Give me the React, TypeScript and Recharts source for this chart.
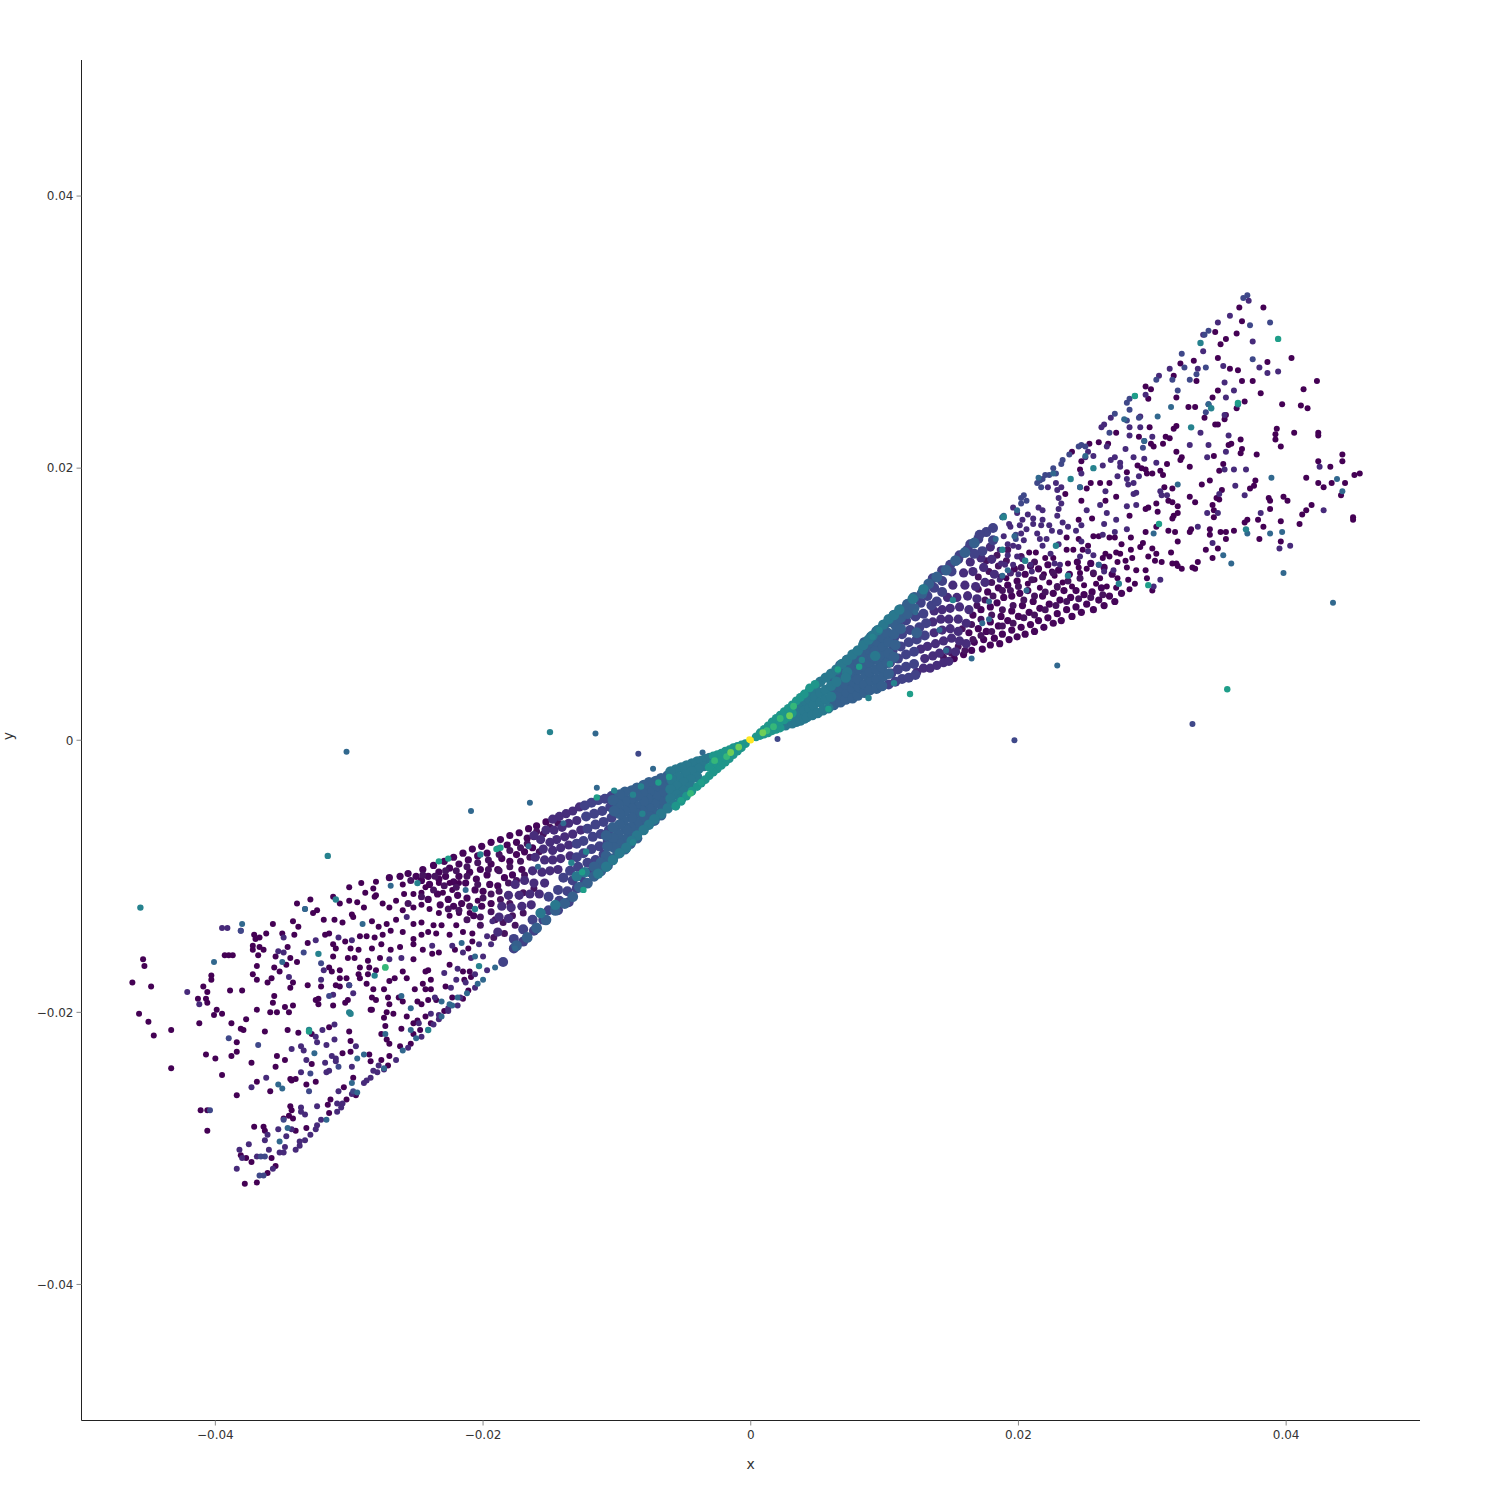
import React from 'react'
import { ScatterChart, Scatter, XAxis, YAxis } from 'recharts'

// every point is [x, y] in thousandths
const plum: number[][] = [
  [36.5,31.8],[38.3,31.8],[36.7,30.8],[36.3,29.9],[34.7,30],[35.5,29.5],[35.1,29.1],[34.9,28.1],[33.1,27.9],[38.6,27.8],[40.4,28.1],[32.1,27.7],[35.8,27.3],[36.4,27.2],[31.6,26.8],[33.3,26.4],[36.7,26.4],[37.5,26.4],[42.3,26.4],[29.5,26],[29.9,25.8],[34.9,25.7],[41.3,25.8],[38.1,25.5],[29.7,25.1],[31.8,25.2],[34.5,25.2],[36.9,24.9],[39.7,24.7],[41.1,24.6],[41.6,24.4],[32.7,24.5],[33.2,24.5],[36.3,24.4],[35.5,23.9],[33.9,23.7],[35.4,23.6],[29.8,23],[31.8,23.1],[31.6,22.9],[34.7,23.2],[34.9,23.2],[39.3,22.9],[27.3,22.6],[40.6,22.6],[42.4,22.6],[39.2,22.5],[42.4,22.4],[29,22.3],[31,22.3],[31.3,22.2],[36.6,22.1],[39.2,22.1],[26,21.9],[26.7,21.8],[29.9,21.8],[30.8,21.8],[25.3,21.8],[30.1,21.6],[35.7,21.7],[35.9,21.8],[39.6,21.6],[36.7,21.4],[31.8,21.2],[36.6,21.1],[37.8,21],[44.2,21],[24,21.2],[32.2,20.8],[34.6,20.9],[32.1,20.6],[44.2,20.5],[42.4,20.5],[24.7,20.5],[31.1,20.3],[35.3,20.3],[28.9,20.2],[32.8,20.1],[43.3,20.1],[24.6,19.9],[29.2,20],[29.5,19.9],[30.6,19.8],[35,19.8],[45.5,19.6],[45.1,19.5],[28.1,19.7],[29.6,19.6],[30,19.6],[30.8,19.5],[41.5,19.3],[37.7,19.1],[26.1,18.9],[26.8,18.9],[33.7,18.8],[34.3,19.1],[25.4,18.9],[42.4,18.9],[43.4,18.9],[44.4,18.9],[42.8,18.6],[30.9,18.6],[31.5,18.5],[37.6,18.7],[37.3,18.5],[35.2,18.4],[25.1,18.5],[44.1,18],[23.5,18.1],[27.3,17.9],[32.8,17.9],[34.8,17.8],[39.8,17.9],[35,17.7],[38.7,17.8],[40.1,17.6],[24.7,17.6],[26.5,17.6],[31.2,17.6],[38.8,17.6],[30.3,17.4],[31.5,17.5],[33.2,17.5],[34.5,17.3],[41.9,17.3],[31.9,17.2],[29.5,17],[29.7,17.1],[30.4,16.8],[34.6,16.9],[38.8,17],[41.5,16.9],[28.3,16.5],[31.9,16.7],[31.6,16.5],[41.2,16.6],[34.6,16.4],[45,16.4],[45,16.2],[25.5,16.3],[31.5,16.3],[24.5,16.2],[37.9,16.2],[39.6,16.1],[41,15.9],[36.9,16],[37.1,16.2],[30.3,15.7],[31.2,15.4],[31.7,15.3],[32.8,15.3],[32.9,15.5],[34.3,15.5],[36.1,15.4],[35.5,15.3],[35.1,15.3],[38.3,15.7],[34.3,15.1],[26,15],[25.6,15],[26.8,14.9],[27.2,14.9],[28.4,14.9],[29.5,15.3],[23.6,14.9],[24.5,14.8],[35.5,14.8],[38,14.8],[31.9,14.6],[39.6,14.6],[29.3,14.5],[27.7,14.4],[25.2,14.3],[29.1,14.2],[34.9,14.1],[30,14.1],[34,14],[23.6,14],[24.1,14],[24.8,14],[28.4,14],[31.4,13.8],[20.8,13.8],[21.3,13.8],[26.5,13.7],[27.3,13.8],[27.6,13.7],[30.3,13.7],[29.7,13.5],[28.5,13.4],[34.5,13.4],[22,13.4],[22.6,13.4],[26.3,13.4],[26.8,13.5],[30.2,13.2],[30.7,13.1],[28,13.2],[27.4,13.1],[23.7,13],[31.8,13],[31.5,13],[33.4,13.1],[31.9,12.8],[33,12.7],[33.2,12.6],[32.2,12.6],[28.1,12.7],[24.5,12.7],[25.1,12.6],[28.8,12.5],[29.5,12.5],[22.5,12.4],[21.9,12.2],[24.6,12.3],[22.7,12.1],[25.6,12.2],[29.6,11.9],[21.2,11.8],[19.1,11.9],[26.1,11.9],[27.4,11.9],[28.2,11.8],[22.3,11.6],[23.3,11.6],[28.7,11.5],[25.8,11.5],[20.7,11.5],[24.9,11.4],[26.6,11.3],[27.3,11.2],[24,11.3],[22.9,11.2],[21.6,11.2],[30,11],[28.3,11.1],
  [-45.4,-16.1],[-45.3,-16.6],[-46.2,-17.8],[-44.8,-18.1],[-40.9,-18.1],[-45.7,-20.1],[-45,-20.7],[-43.3,-21.3],[-44.6,-21.7],[-43.3,-24.1],[-40.7,-23.1],[-41.1,-27.2],[-40.6,-27.2],[-40.6,-28.7],[-35.7,-13.5],[-34.2,-13.3],[-33.8,-13.7],[-33.9,-12],[-32.9,-11.7],[-32.4,-12.5],[-32.7,-12.7],[-31.9,-13.2],[-37.1,-14.3],[-36.2,-14.2],[-35,-14.2],[-34.1,-14.3],[-37,-14.6],[-36.7,-14.5],[-33.1,-14.9],[-31.8,-14.3],[-31.5,-14.2],[-37.2,-15.1],[-36.7,-15.2],[-37.2,-15.4],[-36.4,-15.4],[-34.6,-15.2],[-35.5,-15.9],[-36.8,-15.8],[-39.3,-15.8],[-39,-15.8],[-38.7,-15.8],[-34.4,-16],[-33.9,-16.3],[-36.9,-16.6],[-35.6,-16.7],[-34.7,-16.5],[-35.2,-17],[-37.2,-17.2],[-40.3,-17.3],[-40.3,-17.6],[-36.9,-17.6],[-36.1,-17.8],[-35.8,-17.5],[-31.5,-16.7],[-31.3,-17],[-30.7,-16.9],[-34.2,-17.8],[-34.4,-18.2],[-33.1,-18],[-32.1,-18.1],[-31,-18],[-30,-18],[-30.7,-17.5],[-30.2,-17.5],[-40.6,-18.5],[-38.9,-18.4],[-38,-18.4],[-41.3,-19],[-40.7,-19],[-40.6,-19.3],[-35.6,-18.8],[-35.7,-19.3],[-32.3,-19],[-32.5,-19.1],[-30.1,-19.1],[-30.3,-19.3],[-32.3,-19.4],[-31.2,-19.5],[-34.8,-19.6],[-34.2,-19.5],[-36.9,-19.8],[-28.4,-19.8],[-39.9,-19.8],[-40.1,-20.2],[-39.5,-20.1],[-35.9,-20],[-35.4,-20],[-34.5,-20],[-41.2,-20.8],[-38.8,-20.8],[-37.7,-20.5],[-38.1,-21.2],[-37.9,-21.3],[-36.3,-21.4],[-34.6,-21.3],[-31.5,-21.1],[-33.8,-21.5],[-32.8,-21.6],[-38.4,-22.2],[-29.9,-22.1],[-30,-21.4],[-38.4,-22.9],[-38.8,-23.2],[-35.4,-23.2],[-34.8,-23.5],[-30.5,-23],[-29.9,-22.9],[-28.5,-23.1],[-40,-23.4],[-32.8,-23.8],[-28.4,-23.6],[-27.6,-23.5],[-27,-23.2],[-37.3,-23.7],[-35.5,-24],[-27.1,-23.9],[-39.5,-24.6],[-29.7,-24.8],[-34.4,-24.9],[-34,-24.9],[-34.3,-25],[-36.9,-25.1],[-32.5,-25.1],[-33.2,-25.3],[-30.4,-25.5],[-35.9,-25.8],[-29.5,-26.1],[-38.4,-26.1],[-31.4,-26.4],[-30.2,-26.4],[-31.6,-26.8],[-34.4,-26.9],[-34.3,-27.2],[-31.5,-27.4],[-34.5,-27.6],[-34.9,-27.8],[-34.2,-27.8],[-37.1,-28.4],[-36.4,-28.4],[-33.2,-28.5],[-36.3,-28.7],[-38.1,-30.5],[-37.7,-30.7],[-37.3,-31],[-35.5,-31.3],[-36.1,-31.8],[-37.8,-32.6],[-36.9,-32.5],[-34,-28.7],[-35.8,-30.7],
  [-30,-10.8],[-29.1,-10.5],[-28,-10.4],[-28.8,-11.2],[-28.2,-10.9],[-28,-11.4],[-26,-10.6],[-24.3,-10.8],[-25.9,-11.3],[-25.2,-11.3],[-24.6,-11.2],[-23.3,-10.5],[-22.5,-10.5],[-21.8,-10.5],[-23,-11.2],[-22.3,-11],[-20.4,-11.8],[-31.2,-11.5],[-30.7,-12],[-30,-11.8],[-29.4,-11.9],[-28.9,-12.3],[-28.1,-11.5],[-27.5,-12],[-27,-12.3],[-26.5,-11.8],[-26,-12.5],[-25.2,-12.3],[-24.6,-12.1],[-24,-12.4],[-23.3,-12.7],[-22.5,-12.9],[-21.8,-12.7],[-21,-12.7],[-31.1,-13.2],[-30.5,-13.4],[-29.8,-12.8],[-29.7,-13],[-28.3,-13.3],[-27.8,-13.7],[-27.2,-13.5],[-26.5,-13.2],[-25.2,-13.5],[-24.6,-13.4],[-23.7,-13.6],[-23.1,-13.6],[-22,-13.6],[-21.5,-14.1],[-20.8,-14.2],[-31.2,-15],[-30.3,-14.8],[-29.2,-14.4],[-28.7,-14.4],[-28.1,-14.5],[-27.5,-14.3],[-26.9,-14],[-26,-14.1],[-25.2,-14.6],[-24.6,-14.3],[-24.1,-14.1],[-23.5,-14.2],[-22.5,-14.3],[-20.8,-14.8],[-31,-15.3],[-29.9,-15.3],[-29.3,-15.4],[-28.3,-15.3],[-27.6,-15],[-26.9,-15.4],[-26.2,-15.2],[-25.2,-15],[-24.5,-15.4],[-23.3,-15.6],[-22.1,-15.4],[-21.1,-15.3],[-31.2,-15.9],[-30.1,-16],[-29.6,-16],[-28.6,-16.2],[-27.7,-16],[-25.2,-16.1],[-23.8,-15.7],[-22.5,-16.5],[-29.2,-16.7],[-28.5,-16.7],[-28,-16.9],[-26,-17],[-24.1,-16.9],[-21.5,-17],[-21,-17],[-29.3,-17.2],[-28.6,-17.2],[-26.6,-17.5],[-25.7,-17.5],[-24.3,-17],[-21.4,-17.6],[-20.9,-17.4],[-29.2,-17.5],[-27,-17.7],[-24.5,-17.9],[-23.9,-17.6],[-28.7,-17.9],[-22.8,-18.1],[-21.1,-18.4],[-30.7,-18.1],[-28.2,-18.3],[-27.4,-18.3],[-25.1,-18.3],[-24.3,-18.3],[-23.9,-18.3],[-28.3,-18.9],[-28,-19.1],[-27.1,-18.9],[-26.3,-18.9],[-24.1,-19.1],[-22.3,-18.9],[-21.5,-19],[-24.9,-19.2],[-27,-19.4],[-26,-19.2],[-24.6,-19.4],[-23.5,-19.1],[-28.3,-19.8],[-27.2,-20],[-26.7,-20.1],[-25.7,-20.3],[-22.9,-19.9],[-24.3,-20.3],[-27.4,-20.4],[-24.9,-20.6],[-27.3,-21],[-25.2,-20.8],[-26.1,-21.2],[-24.7,-21.3],[-23.9,-20.8],[-27.6,-21.6],[-25.2,-21.6],[-27.2,-22],[-27,-22.3],[-26.2,-22.5],[-25.4,-22.3],
]

const plumFill: number[][] = [
  [15.2,6],[15.9,6.3],[16.5,6.6],[16.7,7.2],[17.3,6.7],[17.4,7.4],[17.9,7],[18.2,7.5],[18.6,7.1],[18.8,7.8],[19.3,7.4],[19.5,8.1],[19.9,7.6],[20.2,8.3],[20.5,7.8],[20.9,8.5],[21.2,8],[21.5,8.8],[21.9,8.3],[22.2,9],[22.6,8.6],[22.9,9.3],[23.2,8.8],[23.6,9.6],[24,9.1],[24.3,9.8],[24.7,9.4],[25.1,10],[25.6,9.6],[26,10.3],[26.4,9.9],[26.8,10.6],[27.2,10.2],[27.7,10.8],[16.3,7.9],[17,8.2],[17.6,8],[17.9,8.7],[18.5,8.4],[18.7,9.1],[19.2,8.8],[19.5,9.5],[20,9.1],[20.3,9.9],[20.8,9.4],[21.1,10.2],[21.6,9.7],[21.8,10.6],[22.3,10],[22.6,10.8],[23.1,10.3],[23.4,11],[23.9,10.5],[24.3,11],[24.9,10.7],[25.5,10.9],[26.2,11.2],[16.6,9.2],[17.2,9.6],[17.9,9.8],[18.4,10.1],[18.9,10.5],[19.5,10.6],[20.1,10.8],[20.7,11],[17.7,10.9],[18.5,11.2],[19.2,11.4],[19.9,11.7],[20.5,12.2],[19.7,12.6],[20.9,12.8],[21.5,12.6],[22.2,12.9],[23,12.5],[23.8,12.2],[24.4,13.1],[25.4,13],[26.4,12.7],[27,12.2],
  [-15.3,-6],[-16,-6.3],[-16.6,-6.5],[-16.7,-7.2],[-17.3,-6.8],[-17.5,-7.5],[-18,-7],[-18.2,-7.7],[-18.7,-7.3],[-18.9,-8],[-19.4,-7.5],[-19.7,-8.3],[-20.1,-7.8],[-20.4,-8.5],[-20.8,-8],[-21.1,-8.8],[-21.5,-8.3],[-21.8,-9.1],[-22.2,-8.6],[-22.5,-9.4],[-22.9,-8.9],[-23.3,-9.7],[-23.7,-9.2],[-24.1,-10],[-24.5,-9.5],[-25,-10],[-25.6,-9.8],[-26.2,-10],[-27,-10.1],[-16.3,-7.9],[-16.9,-8.2],[-17.5,-8.4],[-18,-8.9],[-18.6,-8.7],[-18.9,-9.5],[-19.4,-9.1],[-19.7,-9.9],[-20.2,-9.5],[-20.5,-10.2],[-21,-9.7],[-21.3,-10.5],[-21.8,-10],[-22.2,-10.4],[-22.8,-10],[-23.3,-10.2],[-24,-10.6],[-24.6,-10.3],[-17.1,-9.5],[-17.8,-9.9],[-18.4,-10.1],[-18.9,-10.7],[-19.5,-10.6],[-20,-11.1],[-20.6,-11],[-21.2,-11.6],[-21.9,-11.4],[-22.6,-11.7],[-23.4,-11.3],[-24.1,-11.7],[-19.4,-12],[-20.1,-12.2],[-20.7,-12.9],[-21.6,-12],[-22.2,-12.2],[-23.2,-12.1],
]

// the gaps of the dark lobes, on either side of the centre
const lobe: number[][] = [
  [16.1,7.1],[16.6,7.4],[17.2,7.7],[18,8],[18.8,8.4],[19.6,8.6],[20.4,9],[21.2,9.2],[22,9.6],[22.8,9.9],[23.6,10.2],[24.5,10.4],[25.4,10.5],[26.3,10.7],[15.8,8.2],[16.5,8.5],[17.2,8.9],[18,9.2],[18.8,9.6],[19.6,9.9],[20.4,10.3],[21.2,10.6],[22,10.9],[22.9,11.3],[23.7,11.7],[24.6,11.9],[25.6,12.3],[16.9,9.9],[17.5,10.3],[18.1,10.6],[18.8,11],[19.4,11],[20,11.3],[21,11.8],[21.8,12],[22.6,12.3],[16.2,10.7],[17,11.1],[18,11.6],[18.7,12],[19.4,12.3],[20.2,12.7],[17,12],[17.8,12.4],[18.5,12.8],[19.1,13.2],[20.2,13.5],[21.2,13.1],[17.6,13.2],[18.4,13.6],[19.2,14],[15,6.4],[14.4,6.1],[15.5,6.9],[16,6.6],
  [-16.2,-7.1],[-16.7,-7.6],[-17.2,-7.9],[-18,-8.1],[-18.8,-8.4],[-19.6,-8.8],[-20.4,-9],[-21.2,-9.3],[-22,-9.6],[-22.8,-9.6],[-23.6,-10],[-24.5,-9.9],[-25.4,-10.3],[-15.8,-8.2],[-16.5,-8.6],[-17.2,-8.9],[-18,-9.3],[-18.8,-9.6],[-19.6,-9.5],[-20.4,-10.6],[-21.2,-10],[-22,-10.8],[-22.9,-10.7],[-23.7,-11],[-24.6,-11.5],[-25.6,-12],[-16.9,-9.9],[-17.5,-10.3],[-18.1,-10.5],[-18.8,-11.1],[-19.4,-11.3],[-20,-11.6],[-21,-12.2],[-21.8,-12.5],[-22.6,-12.4],[-16.2,-10.9],[-17,-11.2],[-18,-12],[-18.7,-11.7],[-19.4,-12.6],[-20.2,-13],[-17,-12.7],[-17.8,-12.9],[-18.5,-13.4],[-19.1,-13.2],[-20.2,-13.6],[-21.2,-13.2],[-17.6,-13.6],[-18.4,-14.2],[-19.2,-14.5],[-15,-6.4],[-14.4,-6.1],[-15.5,-6.9],[-16,-6.7],
]

const violet: number[][] = [
  [37.2,32.3],[35.8,31.2],[34.9,30.7],[33.8,29.8],[37.5,29.3],[33.8,28.6],[38,27.4],[35.3,27.5],[31.3,27.3],[33.4,27.3],[39.4,27.1],[38.6,27],[30.5,26.8],[35.4,26.3],[36.1,25.7],[29.5,25.4],[35.5,25.2],[34.2,24.7],[35.4,23.9],[29.1,23.8],[28.3,23],[29.1,23],[26.9,23.7],[26.4,23.2],[26.2,23],[28.3,22.4],[30,22.3],[35.7,22.4],[29.4,22],[32.8,21.7],[34.2,21.7],[28,21.4],[26.6,21.6],[33.6,22.6],[35.5,21.2],[25.2,21.2],[28.6,20.8],[29.4,20.7],[34.1,20.8],[25.6,20.9],[25,20.8],[27.2,20.8],[26.9,20.6],[30.3,20.4],[27.6,20.4],[26.3,20.2],[42.5,20.1],[27.6,20.1],[35.4,19.9],[36.1,19.9],[37,19.9],[24.7,19.6],[27.4,19.4],[29,19.4],[28.1,19.2],[28.6,18.9],[28.2,18.8],[36.2,18.7],[22.8,18.9],[24.6,18.6],[26.5,18.3],[28.8,18.2],[30.6,18.3],[30.7,18],[31.1,18],[36.9,18],[28.6,18.1],[22.2,18.6],[23.2,18.6],[22.9,18.4],[35,18.1],[23,17.8],[28.8,17.3],[26.1,17.3],[28.1,17.2],[42.8,16.9],[23.2,17.4],[19.6,17.1],[21.5,17.1],[25.1,16.9],[21.8,16.9],[23,17],[38.1,16.7],[34.1,16.7],[34.9,16.7],[19.9,16.7],[20.7,16.6],[26.6,16.7],[22.9,16.5],[21.1,16.3],[20.3,16.2],[21.8,16.2],[27.3,16.2],[23.3,16],[26.4,15.9],[19.4,15.7],[20.1,15.8],[21.1,15.9],[21.7,15.8],[22.3,15.8],[24.7,15.8],[23.7,15.7],[33.4,15.7],[28.1,15.5],[27.2,15.3],[22.5,15.4],[23.1,15.3],[21.4,15.2],[20.2,15.2],[24.3,15.4],[26.3,15.1],[22.1,14.8],[21.6,14.8],[24.7,14.6],[34.5,14.5],[19.2,14.4],[19.6,14.3],[20,14.2],[21.8,14.3],[39.5,14.1],[40.3,14.3],[25.2,13.9],[25.6,13.6],[20.3,13.3],[24.6,13.5],[19.6,12.9],[20.9,12.9],[22.7,13],[23.1,12.9],[26,12.9],[19,12.9],[21,12.4],[19.4,12.3],[27.1,12.5],[26.4,12.4],[20,12.2],[30.6,11.8],[18.6,11.8],[30.1,11.3],[18.7,13],[18.6,14],[19.2,13.6],[18.9,15],[19.9,13.5],[20.4,14.7],[19.3,15.9],[20.6,15.5],[22.4,13.7],[23,14.4],
  [-39.5,-13.8],[-39.1,-13.8],[-38.1,-14],[-34.9,-14.5],[-34.9,-15.6],[-35.3,-15.5],[-32.5,-14.7],[-31.9,-16.9],[-32.1,-17.6],[-34.5,-17.4],[-31.2,-18.7],[-42.1,-18.5],[-41.2,-19.4],[-36.2,-24.8],[-37.3,-25.5],[-32.5,-21.8],[-32,-21.3],[-31.1,-20.9],[-31.1,-22],[-32.4,-22.2],[-33.6,-22.5],[-31.7,-22.4],[-29.5,-22.5],[-34.3,-22.7],[-33.4,-22.8],[-31.3,-23.2],[-33.2,-23.5],[-31,-23.4],[-31.8,-23.7],[-31,-23.6],[-29.8,-24],[-27.8,-23.9],[-33.6,-24.4],[-31.7,-24.4],[-31.5,-24.3],[-27.9,-24.4],[-28.2,-24.3],[-28.4,-24.8],[-28.7,-25],[-28.9,-25.2],[-30.8,-25.8],[-29.8,-26],[-30.9,-26.7],[-30.5,-26.7],[-33.6,-27],[-32.4,-26.9],[-30.6,-27],[-33.6,-27.3],[-30.9,-27.3],[-33.3,-27.5],[-32.1,-27.9],[-32.4,-28.3],[-35.3,-28.6],[-34.3,-28.6],[-32.5,-28.6],[-36.1,-29],[-34.7,-29.1],[-32.9,-29],[-36.3,-29.4],[-33.7,-29.5],[-33.3,-29.4],[-37.5,-29.7],[-34.8,-29.9],[-33.7,-29.8],[-38.2,-30.1],[-36,-30.1],[-35.2,-30.3],[-34.9,-30.3],[-34,-30.1],[-38,-30.7],[-36.9,-30.6],[-38.4,-31.5],[-35.7,-31.5],
  [-25.7,-13],[-30.8,-14.5],[-29.8,-14.7],[-23.8,-15.1],[-27,-16.1],[-26.1,-16],[-22,-17.6],[-29.7,-18.6],[-23.9,-20.1],[-22.6,-19.7],[-23.3,-20.5],[-19.3,-13.3],[-19.7,-14.4],[-20.3,-15],[-19.4,-15],[-20.9,-16],[-20,-15.9],[-22.3,-15.1],[-21.5,-15.6],[-22.9,-17.1],[-21.9,-16.8],[-21.3,-17.8],[-23.6,-18.9],[-22.4,-18.2],[-21.9,-19.5],[-24.8,-20.8],[-23.3,-20.2],[-19.7,-16.9],[-20.6,-17.2],[-20.6,-18.2],[-21.7,-18.9],[-22.6,-19.9],[-23.7,-20.9],[-24.6,-21.8],[-25.6,-22.6],[-26.5,-23.5],[-27.4,-24.2],
]

const violetFill: number[][] = [
  [12.4,5],[12.9,5.3],[13.4,5.3],[13.9,5.5],[14.4,5.7],[14.8,5.8],[15.3,6.5],[13,6],[13.6,6.2],[14.1,6.4],[14.7,6.6],[12.7,6.7],[13.2,6.9],[13.8,7.1],[14.4,7.3],[15,7.5],[15.6,7.3],[16.1,7.1],[15.5,8],[14.9,8.2],[14.3,8.1],[13.7,7.9],[16.1,8.6],[15.5,8.9],[14.8,8.9],[14.2,8.9],[13.6,8.7],[16.3,9.6],[15.6,9.8],[14.9,9.7],[14.3,9.6],[13.7,9.5],[15.4,10.5],[16.2,10.6],[16.9,10.4],[14.7,10.5],[15.1,11.4],[16,11.4],[16.8,11.3],[17.5,11.6],[18.2,12.2],[17.4,12.7],[16.6,12.4],[15.9,12.3],[18,13.3],[17.2,13.4],[16.4,13.1],[17.9,14.2],
  [-12.8,-4.9],[-13.3,-5.2],[-13.8,-5.4],[-14.3,-5.6],[-14.8,-5.8],[-15.3,-6.6],[-13,-5.9],[-13.6,-6.1],[-14.1,-6.4],[-14.7,-6.6],[-12.7,-6.6],[-13.3,-6.9],[-13.9,-7.1],[-14.5,-7.3],[-15,-7.5],[-15.7,-7.3],[-16.2,-7],[-15.5,-8],[-14.8,-8.1],[-14.2,-7.9],[-13.6,-7.7],[-16.1,-8.6],[-15.4,-8.8],[-14.8,-8.8],[-14.2,-8.7],[-13.5,-8.5],[-16.3,-9.6],[-15.6,-9.7],[-15,-9.6],[-14.4,-9.5],[-15.4,-10.5],[-16.2,-10.5],[-16.9,-10.3],[-17.6,-10.6],[-18.1,-11.4],[-17.3,-11.4],[-16.5,-11.3],[-15.8,-11.3],[-18.6,-12.2],[-17.9,-12.3],[-17.1,-12.2],[-16.4,-12.1],[-18.8,-13],[-18.1,-13.1],[-18.9,-14.1],
]

const indigo: number[][] = [
  [37.1,32.7],[36.8,32.5],[37.3,30.5],[38.8,30.7],[34.2,30.1],[33.9,29.8],[32.2,28.4],[37.5,28],[32.4,27.4],[34,27.4],[33.3,26.9],[30.3,26.5],[31.5,26.5],[32.8,26.5],[28.3,25.1],[28.1,24.8],[31.9,25.7],[28.3,24.3],[27.2,24],[34,24.1],[29,23.7],[28.1,23.5],[26.8,22.6],[24.7,21.7],[24.5,21.6],[25,21.6],[29.3,21.5],[23.8,21],[23.2,20.3],[22.6,20],[23.3,20.6],[22.8,19.6],[22,19.5],[22.3,19.5],[21.8,19.2],[21.6,19.1],[21.4,18.9],[21.7,18.6],[20.4,18],[20.2,17.8],[20.6,17.6],[20.2,17.4],[18.8,16.4],[19.8,15.1],[19.8,14.8],
  [-33.3,-12.4],[-38.1,-14],[-33.4,-15.6],[-32.1,-16.4],[-31.5,-18.8],[-39,-21.9],[-34.9,-27.9],[-36.6,-30.6],[-36.3,-30.6],[-36.7,-32],[-36.4,-32],[-40.4,-27.2],[-33,-25.8],[-32.9,-24.5],[-30.8,-24],[-29.7,-25.8],[-36.8,-22.4],[-33,-21.4],[-30,-18],
  [-8.4,-1],[19.7,0],[33,1.2],[2,0.1],
]

const indigoFill: number[][] = [
  [10.3,4.1],[10.8,4.3],[11.3,4.5],[11.8,4.6],[12.3,4.8],[10.5,4.9],[11,5.2],[11.6,5.4],[12.2,5.6],[10.4,5.7],[11,6],[11.6,6.3],[12.2,6.5],[10.6,6.6],[11.2,6.9],[11.8,7.2],[12.4,7.4],[13,7.7],[10.7,7.5],[11.3,7.8],[11.9,8.1],[12.6,8.3],[13.1,8.6],[11,8.5],[11.6,8.8],[12.3,9.1],[12.9,9.3],[13.5,9.9],[11.4,9.4],[12,9.7],[12.7,10.1],[13.2,10.6],[13.9,10.2],[12.3,10.5],[13,11],[13.7,11.2],[14.3,10.9],[13.6,11.9],[14.3,11.7],[15,12.4],[14.3,12.5],[15.5,13.3],[14.9,12.9],[16.2,14],[15.6,13.6],[17,14.8],[16.4,14.4],[17.6,15.3],[17.1,15.1],[18.1,15.6],[18.1,14.7],[17.3,13.9],[16.7,13.7],
  [-10.4,-4.1],[-10.9,-4.3],[-11.4,-4.4],[-11.9,-4.6],[-12.4,-4.8],[-10.5,-4.9],[-11.1,-5.2],[-11.7,-5.4],[-12.3,-5.6],[-10.4,-5.7],[-11,-6],[-11.6,-6.2],[-12.2,-6.5],[-10.6,-6.6],[-11.2,-6.9],[-11.8,-7.1],[-12.5,-7.4],[-13,-7.6],[-10.7,-7.5],[-11.3,-7.8],[-11.9,-8],[-12.5,-8.3],[-13,-8.6],[-11,-8.4],[-11.6,-8.8],[-12.2,-9],[-12.9,-9.3],[-13.5,-9.6],[-11.4,-9.4],[-12,-9.7],[-12.7,-10],[-13.3,-10.3],[-14,-10.1],[-12.4,-10.5],[-13,-10.9],[-13.7,-11.1],[-14.4,-11],[-13.6,-11.9],[-14.3,-11.8],[-15.1,-11.5],[-14.4,-12.5],[-15.1,-12.5],[-15.5,-13.2],[-16.3,-13.2],[-16.2,-14],[-17,-13.9],[-17,-14.8],[-17.7,-14.6],[-17.7,-15.3],[-18.5,-16.3],
]

const blue: number[][] = [
  [38.9,19.3],[43.8,19.2],[37.1,15.2],[39.7,15.3],[38.8,15.2],[39.8,12.3],[35.3,13.6],[35.9,13],[31.4,24.5],[34.2,24.7],[28.7,25.3],[30.4,23.8],[27.9,23.6],[29.4,22],[25,20.9],[22.6,19.6],[21.5,19.3],[24.6,18.6],[31.9,18.8],[44.2,18.3],[19.9,16.9],[18.9,16.5],[30.1,15.2],[19.7,15],[43.5,10.1],[22.9,5.5],[26,12.9],[19.2,12.5],[18.8,12.1],[18.8,16.4],[18.3,14.8],[20.5,13.2],[17.8,10.2],[20.6,11],[17.8,8.9],[17.3,8.6],[16.5,6],[14.6,6.6],[14.1,8.1],[12.3,9.4],
  [-38,-13.5],[-33.3,-12.4],[-40.1,-16.3],[-35,-16.3],[-35.3,-25.3],[-35,-25.6],[-29.8,-25.2],[-29.4,-25.9],[-34.6,-28.5],[-35.2,-29.5],[-31.7,-27.9],[-32.6,-23],[-29.4,-23.4],[-28.9,-23.1],[-27.4,-24.1],[-26.9,-10.7],[-21.3,-11],[-29,-13.5],[-21.6,-14.9],[-20.6,-15.9],[-20.4,-17.9],[-26.1,-18.8],[-21.9,-18.9],[-23.1,-19.2],[-22.5,-19.4],[-25.4,-19.7],[-23.1,-20.3],[-25.4,-21.3],[-27.3,-21.6],[-25,-21.9],[-26,-22.8],[-19.1,-16.7],[-20,-17.6],[-21.2,-18.6],[-22.3,-19.5],
  [-20.9,-5.2],[-16.5,-4.6],[-11.5,-3.5],[-3.6,-0.9],[-7.3,-2.1],[-30.2,-0.85],[-11.6,0.5],[-15.9,-9.3],[-16.6,-7.8],[-14,-6.1],[-17.6,-15.3],
]

const blueFill: number[][] = [
  [6.2,2.6],[6.2,3.2],[6.3,3.7],[6.1,4.3],[6.2,4.7],[6.7,2.8],[6.6,3.4],[6.7,3.9],[6.7,4.5],[6.6,5.1],[6.7,5.5],[7.1,3],[7.2,3.5],[7.1,4.1],[7.2,4.7],[7.1,5.4],[7.2,5.9],[7.6,3.1],[7.6,3.8],[7.7,4.3],[7.6,5],[7.6,5.6],[7.7,6.2],[8,3.3],[8.1,3.9],[8,4.5],[8.1,5.2],[8,5.8],[8.1,6.5],[8.5,3.5],[8.5,4.1],[8.6,4.8],[8.5,5.4],[8.5,6.1],[8.6,6.8],[8.5,7.2],[8.9,3.7],[9,4.4],[8.9,5],[8.9,5.7],[9,6.4],[8.9,7],[9,7.6],[9.4,3.8],[9.4,4.5],[9.4,5.2],[9.5,5.9],[9.3,6.6],[9.4,7.3],[9.4,8],[9.8,4],[9.9,4.7],[9.8,5.4],[9.8,6.2],[9.9,6.9],[9.8,7.6],[9.9,8.3],[10.3,4.9],[10.2,5.7],[10.3,6.4],[10.3,7.2],[10.2,7.9],[10.3,8.7],[10.7,6.1],[10.8,7],[10.7,7.8],[10.8,8.5],[10.7,9.2],[11.2,8.2],[11.2,9],[11.2,9.6],[11.7,9.3],[11.7,10],[12.2,9.7],[12.2,10.5],[12.8,10.8],[13.3,11.5],[13.9,12],[14.6,12.5],[15.3,13.2],[16,13.8],[16.7,14.5],[12.4,7.9],[9.1,6.1],
  [-6.2,-2.6],[-6.2,-3.2],[-6.3,-3.7],[-6.1,-4.3],[-6.2,-4.7],[-6.7,-2.8],[-6.6,-3.4],[-6.7,-3.9],[-6.7,-4.5],[-6.6,-5.1],[-6.7,-5.5],[-7.1,-3],[-7.2,-3.5],[-7.1,-4.1],[-7.2,-4.7],[-7.1,-5.4],[-7.2,-5.9],[-7.6,-3.1],[-7.6,-3.8],[-7.7,-4.3],[-7.6,-5],[-7.6,-5.6],[-7.7,-6.2],[-8,-3.3],[-8.1,-3.9],[-8,-4.5],[-8.1,-5.2],[-8,-5.8],[-8.1,-6.5],[-8.5,-3.5],[-8.5,-4.1],[-8.6,-4.8],[-8.5,-5.4],[-8.5,-6.1],[-8.6,-6.8],[-8.5,-7.2],[-8.9,-3.7],[-9,-4.4],[-8.9,-5],[-8.9,-5.7],[-9,-6.4],[-8.9,-7],[-9,-7.6],[-9.4,-3.8],[-9.4,-4.5],[-9.4,-5.2],[-9.5,-5.9],[-9.3,-6.6],[-9.4,-7.3],[-9.4,-8],[-9.8,-4],[-9.9,-4.7],[-9.8,-5.4],[-9.8,-6.2],[-9.9,-6.9],[-9.8,-7.6],[-9.9,-8.3],[-10.3,-4.4],[-10.2,-5.2],[-10.3,-6.4],[-10.3,-7.2],[-10.2,-7.9],[-10.3,-8.7],[-10.8,-7],[-10.7,-7.8],[-10.8,-8.5],[-10.7,-9.2],[-11.2,-9],[-11.2,-9.6],[-11.7,-9.3],[-11.7,-10],[-12.2,-10.5],[-12.8,-10.8],[-13.3,-11.5],[-13.9,-12],[-14.6,-12.5],[-15.3,-13.2],[-16,-13.8],[-16.7,-14.5],[-17.5,-15.1],
]

const teal: number[][] = [
  [33.6,29.2],[36.4,24.7],[34.4,24.4],[32.9,23],[25.6,20],[23.9,19.2],[18.9,16.4],[18.8,14],[22.8,14.3],[20.5,13.2],[23.7,12.1],[27.5,11.5],[37,15.5],[15.1,10.3],[9.6,8.1],[9.1,7.6],[8.3,5.9],[10.4,5.6],[10.7,4.2],[8.8,3.1],
  [-45.6,-12.3],[-31,-11.7],[-32.3,-15.7],[-30,-20],[-33,-21.3],[-31.6,-8.5],[-15,0.6],[-29.9,-20.1],[-24.9,-10.5],[-20.6,-12.4],[-28.1,-17.3],[-20.3,-16.6],[-24.1,-21.3],[-10.2,-3.7],[-8.2,-3.4],[-8.8,-4],[-8.1,-5.4],[-8.8,-7.5],[-13.4,-9],[-12.3,-8.2],[-20.2,-8.4],
]

const tealFill: number[][] = [
  [2.6,1.1],[2.9,1.3],[3.1,1.6],[3.1,1.25],[3.4,1.35],[3.4,1.9],[3.5,2.4],[3.7,1.45],[3.7,2],[3.8,2.65],[4,1.6],[4,2.2],[4.1,2.9],[4.2,1.7],[4.4,2.35],[4.4,3],[4.4,3.6],[4.6,1.85],[4.7,2.6],[4.8,3.2],[4.8,3.9],[5,2],[5.2,2.8],[5.2,3.5],[5.2,4.3],[5.4,2.2],[5.6,3],[5.6,3.7],[5.6,4.6],[5.8,2.35],[6,3.2],[6,4],[6,4.9],[6.4,4.3],[6.4,5.2],[6.8,5.6],[7.2,5.9],[7.2,5],[7.6,6.3],[8,6.6],[8.4,7],[8.8,7.4],[9.1,7.7],[9.5,8.1],[9.9,8.5],[10.3,8.9],[10.7,9.2],[11.1,9.6],[12.1,10.4],[12.9,11.1],[9.3,6.2],[7.1,4.6],
  [-3.1,-1.3],[-3.4,-1.4],[-3.7,-1.5],[-4,-1.55],[-4.4,-1.7],[-4.8,-1.85],[-5.2,-2],[-5.6,-2.15],[-6,-2.3],[-3.5,-1.9],[-3.9,-2.1],[-4.4,-2.3],[-4.9,-2.5],[-5.4,-2.7],[-5.9,-2.9],[-4,-2.7],[-4.5,-2.9],[-5,-3.1],[-5.5,-3.4],[-6,-3.6],[-4.5,-3.4],[-5,-3.7],[-5.5,-4],[-6,-4.3],[-5.2,-4.3],[-5.7,-4.7],[-6.2,-5],[-6.7,-5.4],[-7.2,-5.8],[-7.6,-6.2],[-8,-6.6],[-8.5,-7],[-8.9,-7.4],[-9.3,-7.9],[-9.8,-8.3],[-10.3,-8.8],[-10.8,-9.3],[-11.4,-9.8],[-13,-10],[-12.4,-9.7],[-15.7,-12.7],[-14.6,-12.1],
]

const sea: number[][] = [
  [39.4,29.5],[28.7,25.3],[30.5,15.9],[36.4,24.8],[35.6,3.75],[11.9,3.4],[29.7,11.4],[8.1,5.4],[6.5,5.2],[5.8,2.3],
  [-33,-21.4],[-23.3,-8.9],[-22.6,-8.7],[-11.5,-4.2],[-6.1,-2.7],[-6.9,-3.1],[-5.2,-4.4],[-3.7,-3.1],[-12.6,-9.7],[-12.5,-11],[-18.7,-7.9],[-19,-8],
]

const seaFill: number[][] = [
  [0.4,0.25],[0.7,0.35],[0.7,0.55],[1,0.45],[1,0.8],[1.3,0.55],[1.3,0.8],[1.3,1.05],[1.6,0.7],[1.6,1],[1.6,1.35],[1.9,0.8],[1.9,1.2],[1.9,1.6],[2.2,0.9],[2.2,1.4],[2.2,1.85],[2.5,1.5],[2.5,2.1],[2.8,1.7],[2.8,2.35],[3.1,2],[3.1,2.6],[3.4,2.9],[3.7,3.15],[4,3.4],[4.4,3.85],[4.8,4.1],
  [-0.4,-0.25],[-0.7,-0.35],[-0.7,-0.55],[-1,-0.45],[-1,-0.8],[-1.3,-0.55],[-1.3,-0.85],[-1.3,-1.05],[-1.6,-0.7],[-1.6,-1],[-1.6,-1.35],[-1.9,-0.8],[-1.9,-1.2],[-1.9,-1.6],[-2.2,-0.95],[-2.2,-1.4],[-2.2,-1.85],[-2.5,-1.05],[-2.5,-1.55],[-2.5,-2.1],[-2.8,-1.15],[-2.8,-1.7],[-2.8,-2.35],[-3.1,-2],[-3.1,-2.6],[-3.4,-2.9],[-3.7,-3.15],[-4,-3.4],[-4.4,-3.75],[-4.8,-4.1],[-5.2,-4.5],[-5.6,-4.85],
]

const green: number[][] = [
  [3.2,2.5],[1.7,1],[2.2,1.6],[1.2,0.7],[-4.5,-3.9],[-1.8,-1.2],[-2.7,-1.5],[-27.3,-16.7],
]

const lime: number[][] = [
  [2.9,1.8],[0.9,0.55],[-0.9,-0.5],[-1.5,-0.9],
]

const yellow: number[][] = [
  [0,0],[-0.1,0.05],
]

const xTicks = [-0.04, -0.02, 0, 0.02, 0.04]
const yTicks = [-0.04, -0.02, 0, 0.02, 0.04]

const bands = [
  { name: 'plumFill', color: '#450559', r: 3.6, points: plumFill },
  { name: 'plum', color: '#440154', r: 3, points: plum },
  { name: 'lobe', color: '#47145f', r: 3.5, points: lobe },
  { name: 'violetFill', color: '#472d7b', r: 4.6, points: violetFill },
  { name: 'violet', color: '#472a7a', r: 3, points: violet },
  { name: 'indigoFill', color: '#414287', r: 5, points: indigoFill },
  { name: 'indigo', color: '#3f4889', r: 3, points: indigo },
  { name: 'blueFill', color: '#35608d', r: 5.4, points: blueFill },
  { name: 'blue', color: '#31688e', r: 3, points: blue },
  { name: 'tealFill', color: '#29788e', r: 5.2, points: tealFill },
  { name: 'teal', color: '#26828e', r: 3.2, points: teal },
  { name: 'seaFill', color: '#1f968b', r: 4.4, points: seaFill },
  { name: 'sea', color: '#1f9e89', r: 3.2, points: sea },
  { name: 'green', color: '#35b779', r: 3.4, points: green },
  { name: 'lime', color: '#6ece58', r: 3.4, points: lime },
  { name: 'yellow', color: '#fde725', r: 3.2, points: yellow },
]

const toRows = (points: number[][]) => points.map(([x, y]) => ({ x: x / 1000, y: y / 1000 }))

const formatTick = (v: number) => (v === 0 ? '0' : String(v).replace('-', '\u2212'))

const tickStyle = { fontSize: 12, fontFamily: 'DejaVu Sans', fill: '#333333' }

export default function App() {
  return (
    <div style={{ position: 'absolute', left: 0, top: 0, background: '#ffffff' }}>
      <ScatterChart width={1500} height={1500} margin={{ top: 60, right: 80, left: 0, bottom: 0 }}>
        <XAxis
          type="number"
          dataKey="x"
          domain={[-0.05, 0.05]}
          ticks={xTicks}
          tickFormatter={formatTick}
          height={79.5}
          tick={tickStyle}
          tickSize={5}
          tickMargin={5}
          tickLine={{ stroke: '#888888' }}
          axisLine={{ stroke: '#222222' }}
          label={{ value: 'x', position: 'insideBottom', offset: 31, style: { ...tickStyle, fontSize: 14 } }}
        />
        <YAxis
          type="number"
          dataKey="y"
          domain={[-0.05, 0.05]}
          ticks={yTicks}
          tickFormatter={formatTick}
          width={81.5}
          tick={tickStyle}
          tickSize={5}
          tickMargin={3}
          tickLine={{ stroke: '#888888' }}
          axisLine={{ stroke: '#222222' }}
          label={{ value: 'y', angle: -90, position: 'insideLeft', offset: 8, style: { ...tickStyle, fontSize: 14 } }}
        />
        {bands.map((band) => (
          <Scatter
            key={band.name}
            name={band.name}
            data={toRows(band.points)}
            isAnimationActive={false}
            shape={(p: any) => <circle cx={p.cx} cy={p.cy} r={band.r} fill={band.color} />}
          />
        ))}
      </ScatterChart>
    </div>
  )
}
